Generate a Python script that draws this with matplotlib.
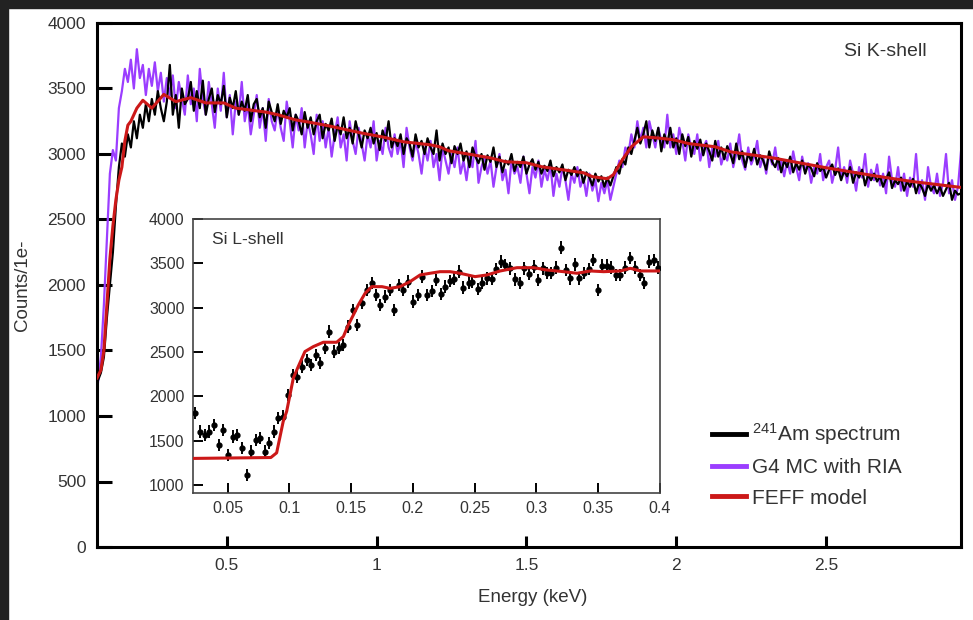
import numpy as np
import matplotlib
matplotlib.use('Agg')
import matplotlib.pyplot as plt
from matplotlib.patches import Rectangle

plt.rcParams['font.family'] = ['Liberation Sans', 'DejaVu Sans']
plt.rcParams['mathtext.default'] = 'regular'

# main spectrum, 0.01 keV bins from 0.07 to 2.95 keV
e_lo, e_hi = 0.07, 2.95

am_counts = [
    1270, 1330, 1450, 1750, 2000, 2250, 2600, 2900, 3080, 2980,
    3150, 3050, 3250, 3120, 3300, 3200, 3380, 3250, 3420, 3300,
    3480, 3350, 3250, 3400, 3680, 3300, 3450, 3200, 3500, 3380,
    3420, 3550, 3330, 3480, 3350, 3560, 3300, 3420, 3500, 3320,
    3450, 3380, 3520, 3280, 3430, 3350, 3480, 3300, 3400, 3330,
    3450, 3250, 3380, 3420, 3280, 3350, 3200, 3400, 3320, 3250,
    3380, 3230, 3330, 3280, 3350, 3180, 3300, 3250, 3150, 3320,
    3200, 3280, 3150, 3250, 3300, 3120, 3230, 3180, 3270, 3100,
    3220, 3150, 3280, 3120, 3200, 3080, 3250, 3150, 3050, 3180,
    3120, 3200, 3080, 3160, 3030, 3180, 3100, 3250, 3050, 3120,
    3060, 3150, 3000, 3120, 3080, 2980, 3150, 3050, 3100, 3000,
    3120, 3050, 3000, 3180, 2950, 3080, 3000, 3050, 2930, 3060,
    3000, 3080, 2950, 3020, 2900, 3050, 2980, 2930, 3000, 2880,
    2990, 2940, 3050, 2900, 2980, 2860, 2950, 2920, 3000, 2870,
    2940, 2900, 2980, 2850, 2920, 2960, 2880, 2940, 2850, 2910,
    2870, 2950, 2830, 2900, 2860, 2920, 2800, 2880, 2840, 2900,
    2830, 2880, 2780, 2860, 2820, 2760, 2850, 2790, 2830, 2750,
    2820, 2760, 2830, 2900, 2850, 2960, 2920, 3050, 3000, 3100,
    3200, 3080, 3150, 3250, 3050, 3180, 3100, 3200, 3020, 3150,
    3080, 3200, 3050, 3120, 3000, 3150, 3060, 3130, 2980, 3100,
    3040, 3110, 2990, 3080, 3020, 2950, 3100, 2980, 3050, 2960,
    3060, 3000, 2930, 3080, 2960, 3020, 2900, 3000, 2950, 3040,
    2920, 2990, 2950, 2880, 3020, 2940, 2900, 2970, 2860, 2950,
    2900, 2980, 2860, 2930, 2880, 2950, 2850, 2920, 2890, 2830,
    2930, 2870, 2900, 2820, 2880, 2920, 2840, 2890, 2800, 2870,
    2830, 2900, 2780, 2860, 2820, 2880, 2760, 2840, 2800, 2850,
    2790, 2830, 2750, 2810, 2860, 2740, 2800, 2770, 2820, 2720,
    2790, 2750, 2810, 2700, 2780, 2740, 2680, 2770, 2720, 2760,
    2700, 2750, 2680, 2730, 2780, 2650, 2720, 2690, 2700,
]

g4_counts = [
    1250, 1450, 1850, 2350, 2850, 3030, 2950, 3350, 3480, 3650,
    3550, 3720, 3500, 3800, 3580, 3680, 3450, 3650, 3520, 3700,
    3480, 3620, 3400, 3580, 3450, 3600, 3350, 3550, 3420, 3300,
    3600, 3380, 3500, 3250, 3650, 3420, 3300, 3550, 3380, 3200,
    3500, 3330, 3620, 3280, 3450, 3150, 3400, 3300, 3550, 3250,
    3380, 3150, 3300, 3450, 3200, 3350, 3100, 3420, 3250, 3180,
    3350, 3200, 3100, 3400, 3250, 3050, 3300, 3180, 3350, 3050,
    3250, 3150, 3000, 3300, 3100, 3250, 3050, 3200, 2980, 3150,
    3280, 3050, 3150, 2950, 3250, 3100, 3000, 3200, 3080, 2950,
    3150, 3050, 3250, 2950, 3100, 3000, 3200, 3050, 2980, 3150,
    3000, 3100, 2900, 3200, 3050, 2950, 3100, 3000, 2850, 3050,
    2950, 3100, 2900, 3000, 2800, 3050, 2950, 2850, 3000, 2900,
    3050, 2850, 2950, 2800, 2980, 2900, 3100, 2780, 2900, 2980,
    2850, 2950, 2750, 2900, 3000, 2800, 2880, 2700, 2950, 2850,
    2900, 2780, 2980, 2850, 2700, 2900, 2820, 2950, 2750, 2880,
    2800, 2920, 2680, 2850, 2750, 2900, 2800, 2650, 2850, 2780,
    2900, 2750, 2820, 2680, 2850, 2720, 2800, 2640, 2780, 2700,
    2800, 2650, 2750, 2850, 2950, 2900, 3050, 3000, 3150, 3050,
    3250, 3100, 3200, 3050, 3250, 3150, 3050, 3200, 3100, 3050,
    3300, 3050, 3150, 3000, 3200, 3100, 2950, 3150, 3050, 3000,
    3150, 2950, 3050, 3100, 2900, 3050, 2980, 3100, 2920, 3000,
    2950, 3080, 2900, 3000, 3150, 2950, 2880, 3050, 2920, 2980,
    3100, 2900, 2980, 2850, 3000, 2920, 3050, 2880, 2950, 2830,
    2950, 2850, 3020, 2900, 2800, 2980, 2870, 2930, 2780, 2900,
    2850, 3000, 2800, 2900, 2950, 2780, 2880, 3050, 2820, 2900,
    2780, 2950, 2850, 2720, 2900, 2820, 3000, 2750, 2880, 2800,
    2920, 2760, 2850, 2700, 2980, 2800, 2750, 2900, 2720, 2850,
    2680, 2820, 2750, 3000, 2700, 2800, 2650, 2900, 2750, 2700,
    2850, 2680, 2780, 3000, 2700, 2800, 2650, 2750, 3020,
]

feff_e = [0.067, 0.08, 0.09, 0.10, 0.11, 0.12, 0.13, 0.14, 0.15, 0.16,
          0.17, 0.18, 0.19, 0.20, 0.22, 0.25, 0.29, 0.33, 0.38, 0.43,
          0.49, 0.53, 0.63, 0.67, 0.73, 0.77, 0.84, 0.90, 0.95, 1.02,
          1.09, 1.18, 1.21, 1.24, 1.32, 1.38, 1.43, 1.50, 1.55, 1.62,
          1.69, 1.72, 1.77, 1.79, 1.82, 1.85, 1.89, 1.93, 1.99, 2.04,
          2.13, 2.18, 2.32, 2.50, 2.68, 2.79, 2.95]
feff_counts = [1290, 1350, 1500, 1850, 2200, 2450, 2650, 2800, 2900, 3100,
               3220, 3250, 3300, 3350, 3410, 3350, 3455, 3400, 3430, 3390,
               3390, 3350, 3320, 3300, 3260, 3245, 3215, 3185, 3160, 3130,
               3093, 3070, 3055, 3025, 2994, 2970, 2941, 2933, 2903, 2880,
               2857, 2827, 2811, 2842, 2956, 3055, 3131, 3124, 3109, 3080,
               3055, 3017, 2971, 2895, 2827, 2789, 2745]

# L-shell inset
l_e = [0.0235, 0.028, 0.0316, 0.035, 0.0389, 0.043, 0.0464, 0.0505, 0.054, 0.0578,
       0.0613, 0.0654, 0.0686, 0.0727, 0.0762, 0.0802, 0.0837, 0.0878, 0.091, 0.0946,
       0.0986, 0.1027, 0.1059, 0.110, 0.114, 0.1173, 0.1213, 0.1248, 0.1289, 0.1323,
       0.1364, 0.1402, 0.1437, 0.1472, 0.1513, 0.1545, 0.1586, 0.1627, 0.1667, 0.170,
       0.1734, 0.1775, 0.1815, 0.185, 0.189, 0.1923, 0.1964, 0.1999, 0.204, 0.2077,
       0.2113, 0.2153, 0.2188, 0.2226, 0.2261, 0.2301, 0.2336, 0.2377, 0.2409, 0.245,
       0.2482, 0.2523, 0.2563, 0.2599, 0.2639, 0.2674, 0.2712, 0.2747, 0.2788, 0.2823,
       0.2863, 0.2901, 0.2936, 0.2977, 0.3012, 0.3049, 0.3085, 0.312, 0.3158, 0.3199,
       0.3236, 0.3274, 0.3309, 0.3347, 0.3382, 0.3422, 0.3458, 0.3498, 0.3533, 0.3571,
       0.3606, 0.3647, 0.3679, 0.372, 0.376, 0.380, 0.3835, 0.3874, 0.3908, 0.3949,
       0.3985]
l_counts = [1810, 1603, 1566, 1603, 1678, 1453, 1622, 1340, 1547, 1566,
            1416, 1115, 1378, 1509, 1528, 1378, 1472, 1603, 1754, 1772,
            2017, 2242, 2223, 2336, 2411, 2355, 2467, 2374, 2543, 2730,
            2505, 2543, 2580, 2787, 2974, 2805, 3050, 3200, 3275, 3143,
            3031, 3124, 3200, 2974, 3256, 3200, 3294, 3068, 3143, 3350,
            3140, 3189, 3313, 3151, 3237, 3301, 3324, 3406, 3226, 3282,
            3294, 3211, 3275, 3331, 3324, 3437, 3519, 3482, 3444, 3320,
            3275, 3444, 3377, 3463, 3312, 3444, 3388, 3388, 3451, 3677,
            3425, 3331, 3489, 3331, 3388, 3437, 3538, 3200, 3474, 3474,
            3451, 3369, 3369, 3451, 3557, 3451, 3369, 3275, 3519, 3538,
            3451]
l_err = 70

l_feff_e = [0.022, 0.085, 0.0897, 0.095, 0.0978, 0.1005, 0.1032, 0.1072, 0.1126, 0.1194,
            0.1275, 0.1383, 0.1437, 0.1477, 0.1518, 0.1558, 0.1613, 0.1667, 0.175, 0.1815,
            0.1896, 0.1977, 0.2058, 0.2139, 0.222, 0.2301, 0.2382, 0.2503, 0.2599, 0.2707,
            0.2842, 0.2977, 0.3085, 0.322, 0.3328, 0.3436, 0.3544, 0.368, 0.376, 0.3841, 0.4]
l_feff = [1300, 1310, 1363, 1716, 1830, 2017, 2205, 2336, 2505, 2561,
          2610, 2610, 2674, 2805, 2918, 3031, 3162, 3237, 3237, 3218,
          3237, 3294, 3369, 3388, 3406, 3406, 3388, 3350, 3369, 3414,
          3451, 3451, 3425, 3406, 3388, 3414, 3406, 3414, 3444, 3414, 3414]

purple = '#9b3dff'
red = '#cc1818'
txt = '#333333'

fig = plt.figure(figsize=(9.73, 6.2), dpi=100)
ax = fig.add_axes([97/973, 1-547/620, (961-97)/973, (547-23)/620])

e_grid = np.linspace(e_lo, e_hi, len(am_counts))
ax.plot(e_grid, g4_counts, color=purple, lw=1.6, label='G4 MC with RIA', zorder=2)
ax.plot(e_grid, am_counts, color='black', lw=1.6, label=r'$^{241}$Am spectrum', zorder=3)
ax.plot(feff_e, feff_counts, color=red, lw=2.2, label='FEFF model', zorder=4)

ax.set_xlim(0.067, 2.95)
ax.set_ylim(0, 4000)
ax.set_xticks([0.5, 1, 1.5, 2, 2.5])
ax.set_xticklabels(['0.5', '1', '1.5', '2', '2.5'])
ax.set_yticks(range(0, 4001, 500))
ax.tick_params(axis='both', direction='in', width=2.2, labelsize=12.5, labelcolor=txt)
ax.tick_params(axis='y', length=11, pad=8)
ax.tick_params(axis='x', length=8, pad=8)
for s in ax.spines.values():
    s.set_linewidth(2.2)
ax.set_xlabel('Energy (keV)', fontsize=13.5, color=txt)
ax.set_ylabel('Counts/1e-', fontsize=13.5, color=txt)
ax.xaxis.set_label_coords(0.504, -0.081)
ax.yaxis.set_label_coords(-0.076, 0.5)
ax.text(0.96, 0.945, 'Si K-shell', transform=ax.transAxes, ha='right', va='center',
        fontsize=14, color=txt)

h, l = ax.get_legend_handles_labels()
order = [1, 0, 2]
leg = ax.legend([h[i] for i in order], [l[i] for i in order], loc='upper left',
                bbox_to_anchor=(0.712, 0.24), frameon=False, fontsize=15,
                handlelength=1.6, handletextpad=0.3, labelspacing=0.54,
                borderpad=0, borderaxespad=0)
for line in leg.get_lines():
    line.set_linewidth(3.5)
for t in leg.get_texts():
    t.set_color(txt)

# inset
axi = fig.add_axes([193/973, 1-493/620, (660-193)/973, (493-219)/620])
axi.set_zorder(5)
axi.errorbar(l_e, l_counts, yerr=l_err, fmt='o', color='black', ms=3.5,
             elinewidth=1.4, capsize=0, zorder=3)
axi.plot(l_feff_e, l_feff, color=red, lw=2.2, zorder=4)
axi.set_xlim(0.022, 0.4)
axi.set_ylim(910, 4000)
axi.set_xticks([0.05, 0.1, 0.15, 0.2, 0.25, 0.3, 0.35, 0.4])
axi.set_xticklabels(['0.05', '0.1', '0.15', '0.2', '0.25', '0.3', '0.35', '0.4'])
axi.set_yticks(range(1000, 4001, 500))
axi.tick_params(axis='both', direction='in', width=1.4, length=7, labelsize=11.5,
                labelcolor=txt, pad=6)
for s in axi.spines.values():
    s.set_linewidth(1.2)
    s.set_color('#444444')
axi.text(0.04, 0.925, 'Si L-shell', transform=axi.transAxes, ha='left', va='center',
         fontsize=12.5, color=txt)

# dark frame strips of the screenshot
fig.add_artist(Rectangle((0, 1-8/620), 1, 8/620, transform=fig.transFigure,
                         color='#222222', zorder=10))
fig.add_artist(Rectangle((0, 0), 8/973, 1, transform=fig.transFigure,
                         color='#222222', zorder=10))

fig.savefig('out.png', dpi=100)
